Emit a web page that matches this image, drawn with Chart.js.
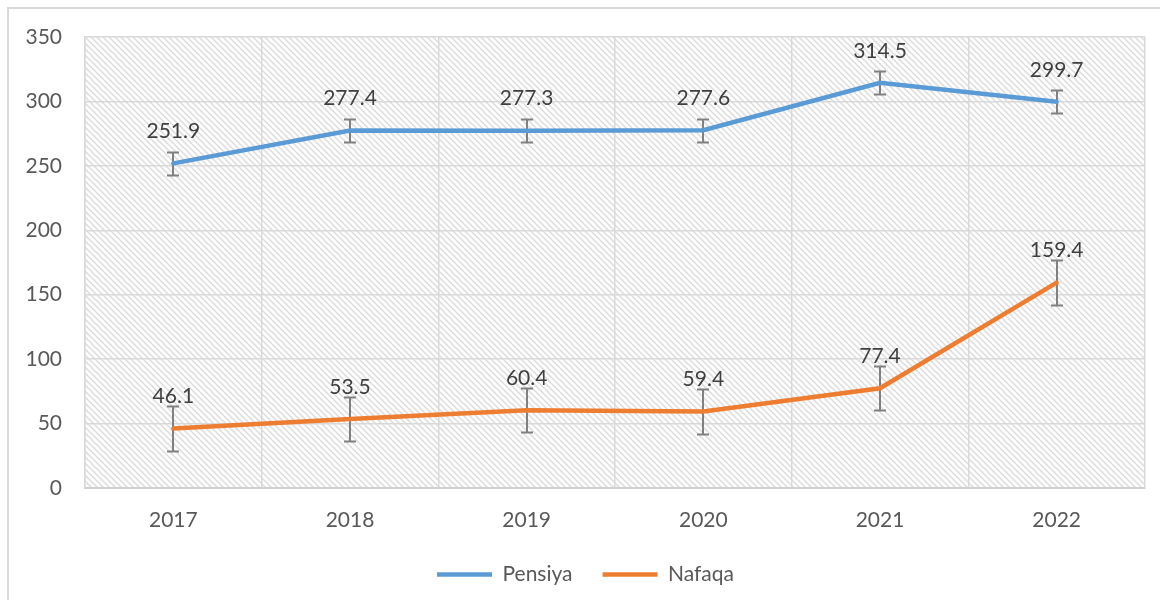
<!DOCTYPE html>
<html>
<head>
<meta charset="utf-8">
<script src="https://cdn.jsdelivr.net/npm/chart.js@4"></script>
<style>
  html, body { margin: 0; padding: 0; background: #fff; }
  #wrap { position: relative; width: 1160px; height: 600px; overflow: hidden; }
  #frame { position: absolute; left: 7px; top: 7px; width: 1200px; height: 700px;
           border-left: 2px solid #d9d9d9; border-top: 2px solid #d9d9d9; }
  #chart { position: absolute; left: 0; top: 0; }
</style>
</head>
<body>
<div id="wrap">
  <div id="frame"></div>
  <canvas id="chart" width="1160" height="600"></canvas>
</div>
<script>
const years = ['2017', '2018', '2019', '2020', '2021', '2022'];
const pensiya = [251.9, 277.4, 277.3, 277.6, 314.5, 299.7];
const nafaqa = [46.1, 53.5, 60.4, 59.4, 77.4, 159.4];
// standart xato (har bir yil uchun bir xil)
const pensiyaErr = [8.8, 8.8, 8.8, 8.8, 8.8, 8.8];
const nafaqaErr = [17.2, 17.2, 17.2, 17.2, 17.2, 17.2];
const yTicks = [0, 50, 100, 150, 200, 250, 300, 350];

const FONT = 'Lato, "Open Sans", sans-serif';
const canvas = document.getElementById('chart');
const ctx = canvas.getContext('2d');

// diagonal chiziqli fon
function makeHatch() {
  const c = document.createElement('canvas');
  c.width = 6;
  c.height = 6;
  const g = c.getContext('2d');
  g.strokeStyle = '#dcdcdc';
  g.lineWidth = 1.5;
  g.beginPath();
  g.moveTo(-1, -1); g.lineTo(7, 7);
  g.moveTo(-1, 5); g.lineTo(1, 7);
  g.moveTo(5, -1); g.lineTo(7, 1);
  g.stroke();
  return ctx.createPattern(c, 'repeat');
}

const hatchBg = {
  id: 'hatchBg',
  beforeDraw(chart) {
    const a = chart.chartArea;
    chart.ctx.save();
    chart.ctx.fillStyle = makeHatch();
    chart.ctx.fillRect(a.left, a.top, a.right - a.left, a.bottom - a.top);
    chart.ctx.restore();
  }
};

// xato chiziqlari (chiziq ostida chiziladi)
const errorBars = {
  id: 'errorBars',
  beforeDatasetsDraw(chart) {
    const c = chart.ctx;
    const y = chart.scales.y;
    c.save();
    c.strokeStyle = '#808080';
    c.lineWidth = 2;
    chart.data.datasets.forEach((ds, i) => {
      chart.getDatasetMeta(i).data.forEach((pt, j) => {
        const top = Math.round(y.getPixelForValue(ds.data[j] + ds.errors[j])) + 0.5;
        const bot = Math.round(y.getPixelForValue(ds.data[j] - ds.errors[j])) + 0.5;
        const x = Math.round(pt.x);
        c.beginPath();
        c.moveTo(x, top); c.lineTo(x, bot);
        c.moveTo(x - 6, top); c.lineTo(x + 6, top);
        c.moveTo(x - 6, bot); c.lineTo(x + 6, bot);
        c.stroke();
      });
    });
    c.restore();
  }
};

// nuqtalar ustidagi qiymatlar
const valueLabels = {
  id: 'valueLabels',
  afterDatasetsDraw(chart) {
    const c = chart.ctx;
    c.save();
    c.font = '21px ' + FONT;
    c.fillStyle = '#404040';
    c.textAlign = 'center';
    c.textBaseline = 'middle';
    chart.data.datasets.forEach((ds, i) => {
      chart.getDatasetMeta(i).data.forEach((pt, j) => {
        c.fillText(ds.data[j].toFixed(1), pt.x, pt.y - 32);
      });
    });
    c.restore();
  }
};

new Chart(canvas, {
  type: 'line',
  data: {
    labels: years,
    datasets: [
      {
        label: 'Pensiya',
        data: pensiya,
        errors: pensiyaErr,
        borderColor: '#5B9BD5',
        backgroundColor: '#5B9BD5',
        borderWidth: 4.5,
        borderCapStyle: 'round',
        pointRadius: 0,
        tension: 0
      },
      {
        label: 'Nafaqa',
        data: nafaqa,
        errors: nafaqaErr,
        borderColor: '#ED7D31',
        backgroundColor: '#ED7D31',
        borderWidth: 4.5,
        borderCapStyle: 'round',
        pointRadius: 0,
        tension: 0
      }
    ]
  },
  options: {
    responsive: false,
    animation: false,
    layout: { padding: { top: 37, right: 15, left: 26, bottom: 5 } },
    plugins: {
      tooltip: { enabled: false },
      legend: {
        position: 'bottom',
        labels: {
          usePointStyle: true,
          pointStyle: 'line',
          pointStyleWidth: 55,
          boxHeight: 10,
          padding: 30,
          color: '#595959',
          font: { family: FONT, size: 21 }
        }
      }
    },
    scales: {
      x: {
        offset: true,
        afterFit: (s) => { s.height = 46; },
        grid: { offset: true, color: '#d9d9d9', lineWidth: 1.5, drawTicks: false },
        border: { color: '#d0d0d0', width: 2 },
        ticks: { color: '#595959', padding: 20, font: { family: FONT, size: 21 } }
      },
      y: {
        min: 0,
        max: 350,
        afterBuildTicks: (s) => { s.ticks = yTicks.map(v => ({ value: v })); },
        afterFit: (s) => { s.width = 59; },
        grid: { color: '#d9d9d9', lineWidth: 1.5, drawTicks: false },
        border: { color: '#d9d9d9', width: 1.5 },
        ticks: { color: '#595959', padding: 23, font: { family: FONT, size: 21 } }
      }
    }
  },
  plugins: [hatchBg, errorBars, valueLabels]
});
</script>
</body>
</html>
